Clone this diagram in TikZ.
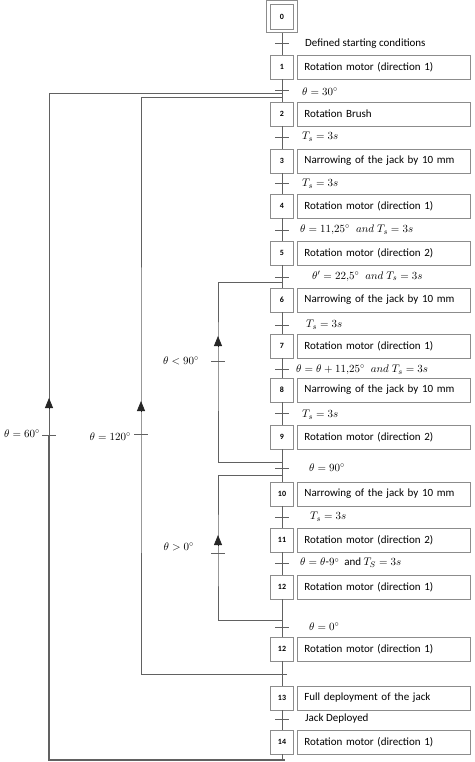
\documentclass[tikz,border=0pt]{standalone}
\usepackage{amsmath}
\usepackage{fontspec}
\setmainfont{Carlito}
\usetikzlibrary{arrows.meta}
\begin{document}
\begin{tikzpicture}[x=1pt,y=-1pt,
  line/.style={draw=black!62, line width=0.8pt},
  stepbox/.style={draw=black!45, line width=0.8pt, minimum width=23pt, minimum height=24pt, inner sep=0pt, font=\bfseries\footnotesize},
  outerbox/.style={draw=black!45, line width=0.8pt, minimum width=31pt, minimum height=32pt, inner sep=0pt},
  actbox/.style={draw=black!45, line width=0.8pt, minimum width=173pt, minimum height=24pt, text width=159pt, inner xsep=7pt, inner ysep=0pt, align=left, anchor=west, font=\fontsize{11}{13}\selectfont},
  cond/.style={anchor=west, inner sep=0pt, font=\fontsize{11}{13}\selectfont},
  ctext/.style={anchor=west, inner sep=0pt, font=\fontsize{11}{13}\selectfont},
  lbl/.style={anchor=east, inner sep=0pt, font=\fontsize{11}{13}\selectfont},
  tick/.style={draw=black!62, line width=0.8pt},
  looptip/.style={-{Triangle[length=10pt,width=8pt]}, draw=black!85, line width=0.8pt}
]
\useasboundingbox (0,0) rectangle (474,762);

% initial step
\node[outerbox] (s0o) at (282,16.9) {};
\node[stepbox, minimum height=25pt] (s0) at (282,16.5) {0};

% steps and actions
\foreach \n/\m/\y/\t in {
  1/1/67/{Rotation motor (direction 1)},
  2/2/114/{Rotation Brush},
  3/3/161/{Narrowing of the jack by 10 mm},
  4/4/206/{Rotation motor (direction 1)},
  5/5/253/{Rotation motor (direction 2)},
  6/6/300/{Narrowing of the jack by 10 mm},
  7/7/346/{Rotation motor (direction 1)},
  8/8/390/{Narrowing of the jack by 10 mm},
  9/9/437/{Rotation motor (direction 2)},
  10/10/494/{Narrowing of the jack by 10 mm},
  11/11/540/{Rotation motor (direction 2)},
  12/12/587/{Rotation motor (direction 1)},
  12b/12/649/{Rotation motor (direction 1)},
  13/13/698/{Full deployment of the jack},
  14/14/742/{Rotation motor (direction 1)}}{
  \node[stepbox] (s\n) at (282,\y) {\m};
  \node[actbox] (a\n) at (297,\y) {\t};
}

% main line
\draw[line] (s0o) -- (s1);
\draw[line] (s1) -- (s2);
\draw[line] (s2) -- (s3);
\draw[line] (s3) -- (s4);
\draw[line] (s4) -- (s5);
\draw[line] (s5) -- (s6);
\draw[line] (s6) -- (s7);
\draw[line] (s7) -- (s8);
\draw[line] (s8) -- (s9);
\draw[line] (s9) -- (s10);
\draw[line] (s10) -- (s11);
\draw[line] (s11) -- (s12);
\draw[line] (s12) -- (s12b);
\draw[line] (s12b) -- (s13);
\draw[line] (s13) -- (s14);

% transitions
\foreach \i/\y in {1/43,2/90,3/137,4/183,5/230,6/277,7/325,8/369,9/413,10/468,11/517,12/563,13/627,14/719}{
  \coordinate (t\i) at (282,\y);
  \draw[tick] ([xshift=-7pt]t\i) -- ([xshift=7pt]t\i);
}
\node[ctext] (c1) at (305,44) {Defined starting conditions};
\node[cond] (c2) at (302,92) {$\theta = 30^\circ$};
\node[cond] (c3) at (302,137) {$T_s = 3s$};
\node[cond] (c4) at (302,184) {$T_s = 3s$};
\node[cond] (c5) at (300,230) {$\theta = 11{,}25^\circ\;\; \mathnormal{and}\; T_s = 3s$};
\node[cond] (c6) at (312,276) {$\theta' = 22{,}5^\circ\;\; \mathnormal{and}\; T_s = 3s$};
\node[cond] (c7) at (306,325) {$T_s = 3s$};
\node[cond] (c8) at (296,370) {$\theta = \theta + 11{,}25^\circ\;\; \mathnormal{and}\; T_s = 3s$};
\node[cond] (c9) at (302,415) {$T_s = 3s$};
\node[cond] (c10) at (309,468) {$\theta = 90^\circ$};
\node[cond] (c11) at (310,517) {$T_s = 3s$};
\node[cond] (c12) at (300,563) {$\theta = \theta\text{-}9^\circ$ \ and $T_S = 3s$};
\node[cond] (c13) at (309,627) {$\theta = 0^\circ$};
\node[ctext] (c14) at (305,719) {Jack Deployed};

% junction points on main line
\coordinate (j60t) at (282,93);
\coordinate (j120t) at (282,97);
\coordinate (j90t) at (282,282);
\coordinate (j90b) at (282,462);
\coordinate (j0t) at (282,475);
\coordinate (j0b) at (282,620);
\coordinate (j120b) at (287,674);
\coordinate (j60b) at (285,760);

% loop transitions
\coordinate (l90) at (218,361);
\coordinate (l0) at (218,553);
\coordinate (l120) at (141,434);
\coordinate (l60) at (49,435);

\draw[line] (j90b) -| (l90) |- (j90t);
\draw[line] (j0b) -| (l0) |- (j0t);
\draw[line] (j120b) -| (l120) |- (j120t);
\draw[line] (s14) -- (282,760);
\draw[line, line width=2pt] (j60b) -| ([yshift=-1pt]l60);
\draw[line] (l60) |- (j60t);

\foreach \c in {l90,l0,l120,l60}{
  \draw[tick] ([xshift=-7pt]\c) -- ([xshift=7pt]\c);
}
\draw[looptip] ([yshift=14pt]l90) -- ([yshift=25pt]l90);
\draw[looptip] ([yshift=7pt]l0) -- ([yshift=18pt]l0);
\draw[looptip] ([yshift=22pt]l120) -- ([yshift=33pt]l120);
\draw[looptip] ([yshift=26pt]l60) -- ([yshift=37pt]l60);

\node[lbl] (g90) at (199,361) {$\theta < 90^\circ$};
\node[lbl] (g0) at (194,547) {$\theta > 0^\circ$};
\node[lbl] (g120) at (131,437) {$\theta = 120^\circ$};
\node[lbl] (g60) at (40,434) {$\theta = 60^\circ$};
\end{tikzpicture}
\end{document}
